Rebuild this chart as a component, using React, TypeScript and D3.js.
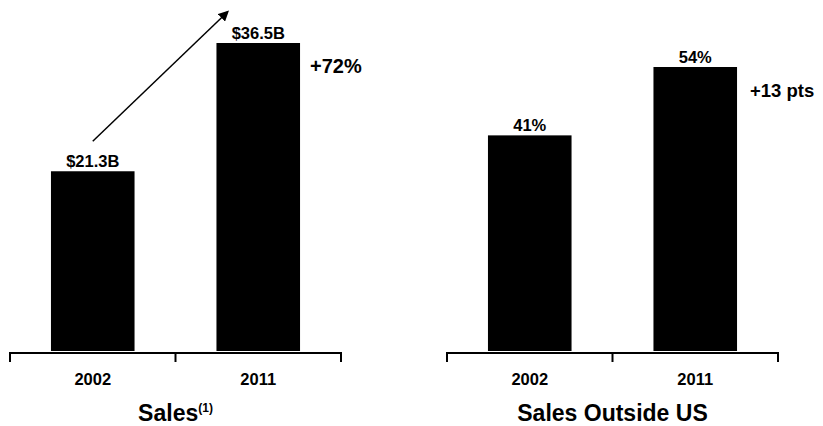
import React from 'react'
import * as d3 from 'd3'

const years = ['2002', '2011']
const salesValues = [21.3, 36.5]
const salesLabels = ['$21.3B', '$36.5B']
const outsideValues = [41, 54]
const outsideLabels = ['41%', '54%']

const font = '"Liberation Sans", Arial, Helvetica, sans-serif'

const baseY = 351
const axisY = 353

type PanelProps = {
	x0: number
	x1: number
	values: number[]
	labels: string[]
	topPx: number
	title: React.ReactNode
	change: string
	changeX: number
	changeY: number
	changeSize: number
	arrow?: boolean
}

const Panel = ({ x0, x1, values, labels, topPx, title, change, changeX, changeY, changeSize, arrow }: PanelProps) => {
	const x = d3.scaleBand().domain(years).range([x0, x1]).padding(0)
	const maxValue = d3.max(values)!
	const y = d3.scaleLinear().domain([0, maxValue]).range([baseY, topPx])
	const barW = x.bandwidth() * 0.505
	const cx = (d: string) => x(d)! + x.bandwidth() / 2

	const tickXs = [x0, ...years.map((d) => x(d)! + x.bandwidth())]

	// arrow goes from above the first label up past the second bar's left edge
	const ax0 = cx(years[0])
	const ay0 = y(values[0]) - 30
	const ax1 = cx(years[1]) - barW / 2 + 11
	const ay1 = y(values[1]) - 31

	return (
		<g>
			{years.map((d, i) => (
				<rect
					key={d}
					x={cx(d) - barW / 2}
					y={y(values[i])}
					width={barW}
					height={baseY - y(values[i])}
					fill='#000'
				/>
			))}
			{years.map((d, i) => (
				<text
					key={'l' + d}
					x={cx(d)}
					y={y(values[i]) - 4}
					textAnchor='middle'
					fontFamily={font}
					fontWeight='bold'
					fontSize={16.5}
				>
					{labels[i]}
				</text>
			))}
			<line x1={x0} x2={x1} y1={axisY} y2={axisY} stroke='#000' strokeWidth={2} />
			{tickXs.map((t) => (
				<line key={t} x1={t} x2={t} y1={axisY - 1} y2={axisY + 9} stroke='#000' strokeWidth={2} />
			))}
			{years.map((d) => (
				<text
					key={'t' + d}
					x={cx(d)}
					y={385}
					textAnchor='middle'
					fontFamily={font}
					fontWeight='bold'
					fontSize={16.5}
				>
					{d}
				</text>
			))}
			<text
				x={(x0 + x1) / 2}
				y={421}
				textAnchor='middle'
				fontFamily={font}
				fontWeight='bold'
				fontSize={23}
			>
				{title}
			</text>
			<text x={changeX} y={changeY} fontFamily={font} fontWeight='bold' fontSize={changeSize}>
				{change}
			</text>
			{arrow && (
				<line x1={ax0} y1={ay0} x2={ax1} y2={ay1} stroke='#000' strokeWidth={1.5} markerEnd='url(#arrowHead)' />
			)}
		</g>
	)
}

const App = () => {
	return (
		<svg width={823} height={426} style={{ position: 'absolute', left: 0, top: 0, background: '#fff' }}>
			<defs>
				<marker
					id='arrowHead'
					viewBox='0 0 10 10'
					refX={8}
					refY={5}
					markerWidth={7}
					markerHeight={7}
					markerUnits='strokeWidth'
					orient='auto'
				>
					<path d='M0,0 L10,5 L0,10 z' fill='#000' />
				</marker>
			</defs>
			<rect width={823} height={426} fill='#fff' />
			<Panel
				x0={10}
				x1={341}
				values={salesValues}
				labels={salesLabels}
				topPx={43}
				title={
					<>
						Sales
						<tspan fontSize={12} dy={-9}>
							(1)
						</tspan>
					</>
				}
				change='+72%'
				changeX={310}
				changeY={73}
				changeSize={20}
				arrow
			/>
			<Panel
				x0={447}
				x1={778}
				values={outsideValues}
				labels={outsideLabels}
				topPx={67}
				title='Sales Outside US'
				change='+13 pts'
				changeX={750}
				changeY={97}
				changeSize={18.5}
			/>
		</svg>
	)
}

export default App
